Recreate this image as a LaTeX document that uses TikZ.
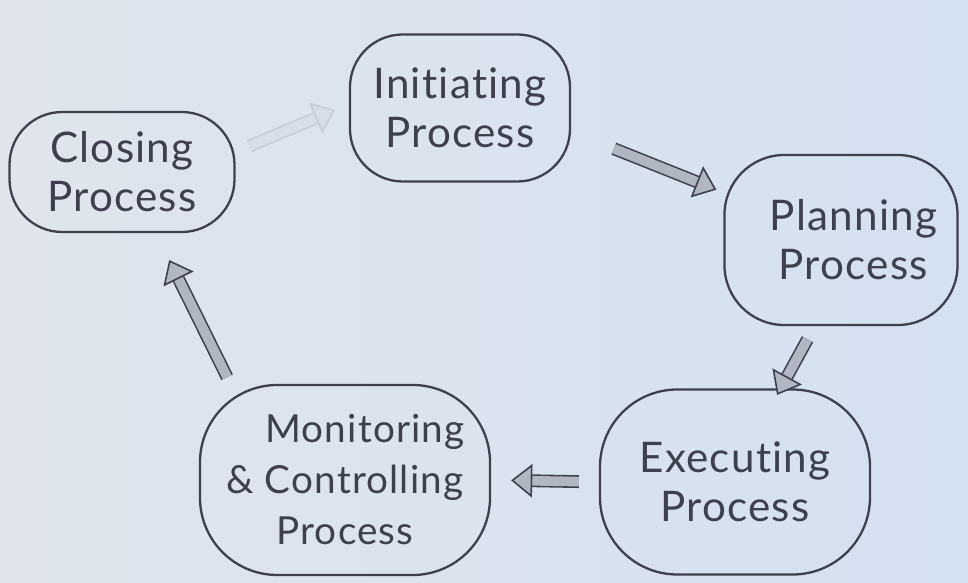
\documentclass[tikz,border=0pt]{standalone}
\usepackage{fontspec}
\setmainfont{Lato}[LetterSpace=3, Ligatures=NoCommon]
\usetikzlibrary{positioning, arrows.meta}
\definecolor{paperGray}{RGB}{224,229,236}
\definecolor{paperBlue}{RGB}{212,225,241}
\definecolor{pencilDark}{RGB}{62,64,78}
\definecolor{pencilFill}{RGB}{176,182,194}
\definecolor{pencilFaint}{RGB}{196,204,218}

\begin{document}
\begin{tikzpicture}[
    stage/.style={draw=pencilDark, line width=1.3pt, rounded corners=30pt,
                  text=pencilDark, align=center,
                  font=\fontsize{24}{28}\selectfont},
    flow/.style={draw=pencilDark, line width=0.9pt, double=pencilFill,
                 double distance=5.5pt,
                 -{Triangle[width=19pt, length=12pt, line width=0.9pt, fill=pencilFill]}},
  ]
  % sheet of paper
  \shade[left color=paperGray, right color=paperBlue] (0,0) rectangle (19.36,11.66);

  % process groups
  \node[stage, minimum width=4.5cm, minimum height=2.4cm] (closing) at (2.44,8.22) {Closing\\Process};
  \node[stage, minimum width=4.4cm, minimum height=2.94cm] (initiating) at (9.2,9.5) {Initiating\\Process};
  \node[stage, minimum width=4.66cm, minimum height=3.4cm, rounded corners=34pt] (planning) at (16.82,6.86) {\hspace{0.5cm}Planning\\\hspace{0.5cm}Process};
  \node[stage, minimum width=5.4cm, minimum height=3.7cm, rounded corners=44pt] (executing) at (14.7,2.02) {Executing\\Process};
  \node[stage, minimum width=5.8cm, minimum height=3.8cm, rounded corners=44pt,
        font=\fontsize{22}{29}\selectfont] (monitoring) at (6.9,2.06) {\hspace{0.8cm}Monitoring\\\&~Controlling\\Process};

  % cycle
  \draw[flow, draw=pencilFaint, double=paperGray!70!pencilFaint, shorten <=0.3cm, shorten >=0.3cm,
        -{Triangle[width=19pt, length=12pt, line width=0.9pt, fill=paperGray!70!pencilFaint]}]
    (closing.10) -- (initiating.178);
  \draw[flow, shorten <=0.92cm, shorten >=0.15cm] (initiating.-12) -- (planning.158);
  \draw[flow, shorten <=0.3cm, shorten >=-0.15cm] (planning.-107) -- (executing.64);
  \draw[flow, shorten <=0.4cm, shorten >=0.4cm] (executing.180) -- (monitoring.0);
  \draw[flow, shorten <=0.15cm, shorten >=0.6cm] (monitoring.140) -- (closing.-61);
\end{tikzpicture}
\end{document}
